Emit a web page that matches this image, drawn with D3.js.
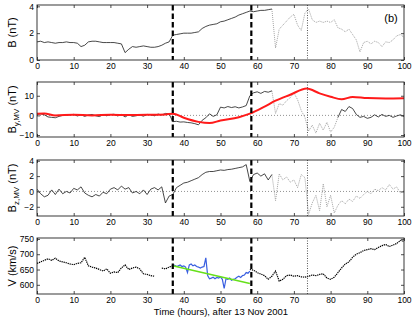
<!DOCTYPE html>
<html><head><meta charset="utf-8">
<script src="https://cdn.jsdelivr.net/npm/d3@7"></script>
<style>body{margin:0;background:#fff}svg{display:block}text{font-family:"Liberation Sans",Arial,sans-serif}</style>
</head><body>
<script>
// ---------- data ----------
const xTicks = [0,10,20,30,40,50,60,70,80,90,100];
const hours = d3.range(0, 101);
const bTicks = [0,2,4];
const byTicks = [-10,0,10];
const bzTicks = [-2,0,2,4];
const vTicks = [600,650,700,750];

const bMag = [1.35,1.4,1.3,1.35,1.3,1.25,1.3,1.3,1.35,1.3,
  1.3,1.25,1.0,1.1,1.35,1.4,1.4,1.35,1.3,1.3,
  1.3,1.3,1.25,1.2,0.55,0.8,1.0,0.95,1.0,1.05,
  1.0,0.95,0.95,1.0,1.1,1.25,1.35,1.85,1.9,1.95,
  2.0,2.0,2.0,2.05,2.1,2.35,2.5,2.6,2.65,2.7,
  2.85,2.9,3.0,3.1,3.2,3.35,3.45,3.55,3.65,3.6,
  3.65,3.7,3.7,3.75,3.8,0.9,2.3,2.6,2.9,3.2,
  3.4,2.6,2.2,3.5,3.8,3.0,2.8,2.9,2.8,2.9,
  2.8,3.0,2.4,2.3,2.1,2.3,1.9,1.5,0.6,1.3,
  1.4,1.2,1.4,1.3,1.0,1.35,1.3,1.5,1.8,1.9,1.7];

const byMV = [0.5,0.8,0.3,-0.8,-1.0,-1.2,-0.5,0,0.2,0.3,
  0.5,-0.3,0.3,-0.5,0.2,0.5,-0.2,-0.6,0.3,-0.2,
  0.4,0.6,-0.3,0.5,-0.8,0.3,-0.5,-0.2,0.2,-0.4,
  0.5,0.3,-0.2,0.7,0.2,1.0,0.8,-3.2,-3.0,-3.4,
  -3.3,-3.6,-3.8,-4.2,-4.8,-2.5,-1.2,0.8,-0.5,0.3,
  4.2,3.8,4.5,4.0,4.4,3.8,4.3,5.0,10.0,11.5,
  12.0,11.2,12.2,11.8,12.5,1.0,6.0,5.2,7.5,9.0,
  11.5,8.0,2.5,-1.0,-8.0,-5.0,-9.0,-4.0,-7.5,-3.5,
  -8.5,-6.0,-1.0,3.0,2.0,4.5,3.5,0.5,-1.0,-0.5,
  -1.5,-1.0,0.3,-0.8,0.5,-0.5,0.0,-1.0,-0.3,0.3,-0.5];

const modelHours = [0,2,5,10,15,20,25,30,35,37,40,44,47,50,55,58,62,65,69,73.5,77,80,83,86,90,95,100];
const byModel = [0.8,1.0,0.0,0.3,0.0,0.3,0.2,0.3,0.5,0.9,-1.2,-3.3,-3.9,-2.6,-0.9,0.9,4.5,7.5,10.5,13.7,11.2,9.5,8.2,9.4,8.8,8.6,8.7];

const bzMV = [0.3,-0.3,-0.7,-0.5,0.2,-0.4,0.3,-0.3,0.0,-0.2,
  0.4,0.2,0.6,-0.2,-0.5,-0.7,-0.4,-0.6,-0.1,-0.3,
  0.3,0.5,0.2,0.7,0.3,0.5,-0.2,0.0,-0.3,0.2,
  -0.4,0.3,0.5,0.2,0.6,-1.5,-0.6,-0.4,0.5,0.8,
  1.1,1.2,1.4,1.6,1.8,2.2,2.5,2.6,2.6,2.7,
  2.8,2.75,2.85,2.9,3.0,3.1,3.2,3.5,1.3,2.2,
  2.4,2.0,2.3,1.5,2.2,-1.2,2.3,1.5,1.9,1.2,
  1.5,0.5,2.2,1.8,-3.0,-1.5,-0.5,-2.5,1.0,-2.0,
  -0.5,-2.8,-1.8,-1.2,-1.6,-1.0,-1.3,-0.6,-0.9,-0.4,
  0.0,-0.3,0.3,0.1,0.5,0.2,0.9,0.3,0.6,-0.2,0.1];

const speed = [670,675,680,685,680,687,678,675,672,668,
  666,670,672,690,662,658,655,650,645,652,
  638,642,640,655,665,650,655,658,652,636,
  634,630,628,null,655,652,658,662,null,null,
  null,null,null,null,null,null,null,null,null,null,
  null,null,null,null,null,null,null,null,650,648,
  640,635,630,618,628,645,612,618,630,632,
  628,630,626,625,628,632,630,634,636,622,
  618,625,640,655,668,675,690,700,705,712,
  715,718,715,722,728,732,725,730,735,745,742];

const fitHours = [37,37.5,38,38.5,39,39.5,40,40.5,41,41.5,42,42.5,43,43.5,44,44.5,45,45.5,46,46.5,47,47.5,48,48.5,49,49.5,50,50.5,51,51.5,52,52.5,53,53.5,54,54.5,55,55.5,56,56.5,57,57.5,58];
const speedMC = [665,664,660,662,665,660,662,658,640,665,668,662,665,660,658,655,658,660,688,630,620,622,625,620,624,622,626,618,588,620,618,622,615,618,620,625,628,624,630,632,640,638,645];
const trendHours = [37,58];
const speedTrend = [662,604];

const dashedHours = [37,58.4];
const dottedHour = 73.7;

// ---------- layout ----------
const W = 415, H = 320;
const svg = d3.select("body").append("svg").attr("width", W).attr("height", H);
const x = d3.scaleLinear().domain([0,100]).range([37,404]);

const panels = [
  {top:5, bottom:60, domain:[0,4.1], ticks:bTicks, label:["B",""," (nT)"], zero:false},
  {top:82, bottom:137, domain:[-11,17], ticks:byTicks, label:["B","y,MV"," (nT)"], zero:true},
  {top:160, bottom:216, domain:[-3.2,4.1], ticks:bzTicks, label:["B","z,MV"," (nT)"], zero:true},
  {top:238, bottom:294, domain:[570,753], ticks:vTicks, label:["V",""," (km/s)"], zero:false}
];

panels.forEach((p, i) => {
  p.y = d3.scaleLinear().domain(p.domain).range([p.bottom, p.top]);
  const g = svg.append("g");
  p.g = g;
  const clipId = "clip" + i;
  svg.append("clipPath").attr("id", clipId).append("rect")
    .attr("x", x.range()[0]).attr("y", p.top).attr("width", x.range()[1]-x.range()[0]).attr("height", p.bottom-p.top);
  p.plot = g.append("g").attr("clip-path", `url(#${clipId})`);

  if (p.zero) {
    p.plot.append("line").attr("x1", x(0)).attr("x2", x(100)).attr("y1", p.y(0)).attr("y2", p.y(0))
      .attr("stroke","#777").attr("stroke-width",0.8).attr("stroke-dasharray","1,2");
  }
});

function lineFor(p, xs, ys, lo, hi) {
  return d3.line().defined((d, k) => ys[k] != null && xs[k] >= lo && xs[k] <= hi)
    .x((d, k) => x(xs[k])).y((d, k) => p.y(ys[k]))(xs);
}

const grayStyle = sel => sel.attr("fill","none").attr("stroke","#999").attr("stroke-width",0.9).attr("stroke-dasharray","1,1");
const blackStyle = sel => sel.attr("fill","none").attr("stroke","#1a1a1a").attr("stroke-width",0.8);

// Panel 1: B
{
  const p = panels[0];
  p.plot.append("path").attr("d", lineFor(p, hours, bMag, 64, 100)).call(grayStyle);
  p.plot.append("path").attr("d", lineFor(p, hours, bMag, 0, 64)).call(blackStyle);
}
// Panel 2: By
{
  const p = panels[1];
  p.plot.append("path").attr("d", lineFor(p, hours, byMV, 64, 82)).call(grayStyle);
  p.plot.append("path").attr("d", lineFor(p, hours, byMV, 0, 64)).call(blackStyle);
  p.plot.append("path").attr("d", lineFor(p, hours, byMV, 82, 100)).call(blackStyle);
  p.plot.append("path")
    .attr("d", d3.line().curve(d3.curveMonotoneX).x((d,k)=>x(modelHours[k])).y((d,k)=>p.y(byModel[k]))(modelHours))
    .attr("fill","none").attr("stroke","#ff1a1a").attr("stroke-width",2);
}
// Panel 3: Bz
{
  const p = panels[2];
  p.plot.append("path").attr("d", lineFor(p, hours, bzMV, 64, 100)).call(grayStyle);
  p.plot.append("path").attr("d", lineFor(p, hours, bzMV, 0, 64)).call(blackStyle);
}
// Panel 4: V
{
  const p = panels[3];
  p.plot.append("path").attr("d", lineFor(p, hours, speed, 0, 100)).attr("fill","none")
    .attr("stroke","#000").attr("stroke-width",1.2).attr("stroke-dasharray","1.3,0.8");
  p.plot.append("path").attr("d", lineFor(p, fitHours, speedMC, 0, 100)).attr("fill","none")
    .attr("stroke","#3a5fe0").attr("stroke-width",1.2);
  p.plot.append("path").attr("d", lineFor(p, trendHours, speedTrend, 0, 100)).attr("fill","none")
    .attr("stroke","#66e01a").attr("stroke-width",1.5);
}

// vertical markers, axes, frames
panels.forEach((p, i) => {
  dashedHours.forEach(h => {
    p.g.append("line").attr("x1", x(h)).attr("x2", x(h)).attr("y1", p.top).attr("y2", p.bottom)
      .attr("stroke","#000").attr("stroke-width",2.2).attr("stroke-dasharray","5.5,3");
  });
  p.g.append("line").attr("x1", x(dottedHour)).attr("x2", x(dottedHour)).attr("y1", p.top).attr("y2", p.bottom)
    .attr("stroke","#555").attr("stroke-width",1).attr("stroke-dasharray","1,1.5");

  const tl = 3;
  const bottomAxis = d3.axisBottom(x).tickValues(xTicks).tickSize(-tl).tickPadding(2.5).tickFormat(d3.format("d"));
  const topAxis = d3.axisTop(x).tickValues(xTicks).tickSize(-tl).tickFormat("");
  const leftAxis = d3.axisLeft(p.y).tickValues(p.ticks).tickSize(-tl).tickPadding(3).tickFormat(d3.format("d"));
  const rightAxis = d3.axisRight(p.y).tickValues(p.ticks).tickSize(-tl).tickFormat("");
  const styleAxis = sel => {
    sel.selectAll(".domain").remove();
    sel.selectAll("line").attr("stroke","#222").attr("stroke-width",0.8);
    sel.selectAll("text").attr("font-size",8.5).attr("fill","#000").attr("font-family","Liberation Sans, Arial, sans-serif");
  };
  p.g.append("g").attr("transform",`translate(0,${p.bottom})`).call(bottomAxis).call(styleAxis);
  p.g.append("g").attr("transform",`translate(0,${p.top})`).call(topAxis).call(styleAxis);
  p.g.append("g").attr("transform",`translate(${x.range()[0]},0)`).call(leftAxis).call(styleAxis);
  p.g.append("g").attr("transform",`translate(${x.range()[1]},0)`).call(rightAxis).call(styleAxis);

  p.g.append("rect").attr("x", x.range()[0]).attr("y", p.top)
    .attr("width", x.range()[1]-x.range()[0]).attr("height", p.bottom-p.top)
    .attr("fill","none").attr("stroke","#222").attr("stroke-width",0.9);

  const cy = (p.top + p.bottom) / 2;
  const t = p.g.append("text").attr("transform", `translate(15.5,${cy}) rotate(-90)`)
    .attr("text-anchor","middle").attr("font-size",11).attr("fill","#000");
  t.append("tspan").text(p.label[0]);
  if (p.label[1]) {
    t.append("tspan").attr("font-size",8).attr("dy",3).text(p.label[1]);
    t.append("tspan").attr("dy",-3).text(p.label[2]);
  } else {
    t.append("tspan").text(p.label[2]);
  }
});

svg.append("text").attr("x", 391).attr("y", 22).attr("text-anchor","middle").attr("font-size",11).text("(b)");
svg.append("text").attr("x", 221).attr("y", 315).attr("text-anchor","middle").attr("font-size",9.5).text("Time (hours), after 13 Nov 2001");
</script>
</body></html>
